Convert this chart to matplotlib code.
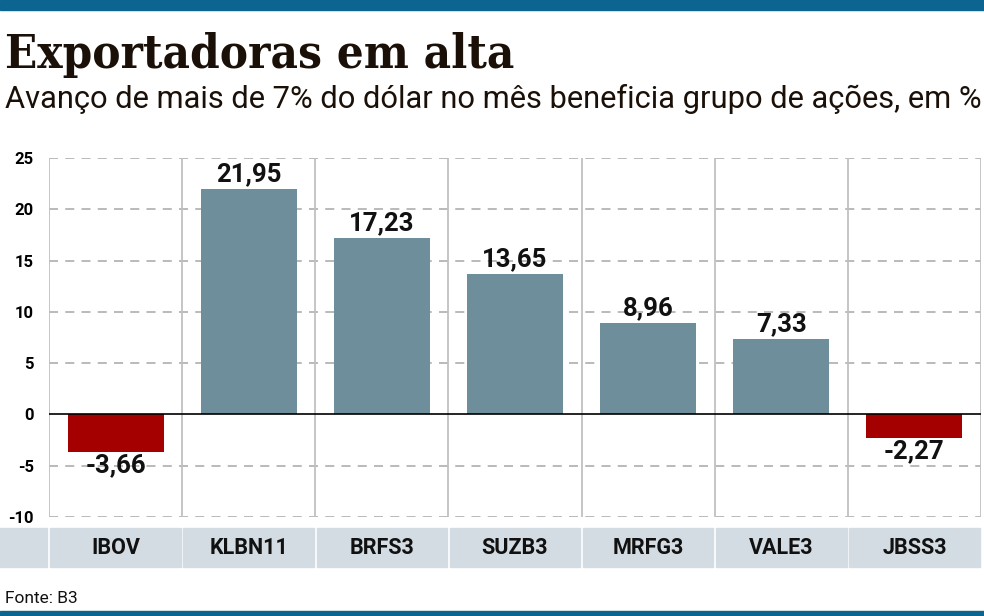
import matplotlib
matplotlib.use("Agg")
import matplotlib.pyplot as plt
from matplotlib.patches import Rectangle
from matplotlib import font_manager as fm

categories = ["IBOV", "KLBN11", "BRFS3", "SUZB3", "MRFG3", "VALE3", "JBSS3"]
values = [-3.66, 21.95, 17.23, 13.65, 8.96, 7.33, -2.27]
labels = ["-3,66", "21,95", "17,23", "13,65", "8,96", "7,33", "-2,27"]
yticks = [-10, -5, 0, 5, 10, 15, 20, 25]

names = {f.name for f in fm.fontManager.ttflist}
narrow = "Liberation Sans Narrow" if "Liberation Sans Narrow" in names else "Roboto"
SANS = [narrow, "DejaVu Sans"]

POS = "#6e8e9c"
NEG = "#a50000"
BAND = "#d3dce3"
BLUE = "#0b6590"

fig = plt.figure(figsize=(9.84, 6.16), dpi=100)
W, H = 984, 616
ax = fig.add_axes([49 / W, 1 - 517 / H, 932 / W, 359 / H])

x = list(range(len(categories)))
colors = [POS if v >= 0 else NEG for v in values]
ax.bar(x, values, width=0.72, color=colors, zorder=3)

ax.set_xlim(-0.5, len(categories) - 0.5)
ax.set_ylim(-10, 25)
for t in yticks:
    if t == 0:
        ax.axhline(0, color="black", lw=1.2, zorder=4)
    else:
        ax.axhline(t, color="#b4b4b4", lw=1.3, ls=(0, (5, 4)), zorder=1)
for i in range(len(categories) + 1):
    ax.axvline(i - 0.5, color="#c0c0c0", lw=1.3, zorder=1)

for s in ax.spines.values():
    s.set_visible(False)
ax.set_xticks([])
ax.set_yticks(yticks)
ax.set_yticklabels([str(t) for t in yticks], fontweight="bold", fontsize=12, family=SANS)
ax.tick_params(axis="y", length=0, pad=11)

for xi, v, lab in zip(x, values, labels):
    if v >= 0:
        ax.annotate(lab, (xi, v), xytext=(0, 2), textcoords="offset points",
                    ha="center", va="bottom", fontsize=18.5, fontweight="bold",
                    family=SANS, color="#111111", zorder=5)
    else:
        ax.annotate(lab, (xi, v), xytext=(0, -1), textcoords="offset points",
                    ha="center", va="top", fontsize=18.5, fontweight="bold",
                    family=SANS, color="#111111", zorder=5)

# category band
trans = ax.get_xaxis_transform()
y0 = (517 - 567) / 359
hgt = (567 - 528) / 359
gap = 2.5 / 133
for xi, c in zip(x, categories):
    ax.add_patch(Rectangle((xi - 0.5 + gap / 2, y0), 1 - gap, hgt, transform=trans,
                           color=BAND, clip_on=False, zorder=2))
    ax.text(xi, y0 + hgt / 2, c, transform=trans, ha="center", va="center",
            fontsize=15.5, fontweight="bold", family=SANS, color="#111111")
fig.patches.append(Rectangle((0, 1 - 567 / H), 47 / W, 39 / H,
                             transform=fig.transFigure, color=BAND))

# top / bottom blue rules
fig.patches.append(Rectangle((0, 1 - 10 / H), 1, 10 / H, transform=fig.transFigure, color=BLUE))
fig.patches.append(Rectangle((0, 0), 1, 5 / H, transform=fig.transFigure, color=BLUE))

fig.text(5 / W, 1 - 68 / H, "Exportadoras em alta", fontsize=34, fontweight="bold",
         family=["DejaVu Serif"], fontstretch="condensed", color="#1a1008",
         ha="left", va="baseline")
fig.text(5 / W, 1 - 108 / H, "Avanço de mais de 7% do dólar no mês beneficia grupo de ações, em %",
         fontsize=22.2, family=SANS, color="#1a1008", ha="left", va="baseline")
fig.text(5 / W, 1 - 603 / H, "Fonte: B3", fontsize=12.5, family=SANS, color="#111111",
         ha="left", va="baseline")

fig.savefig("out.png", dpi=100)
